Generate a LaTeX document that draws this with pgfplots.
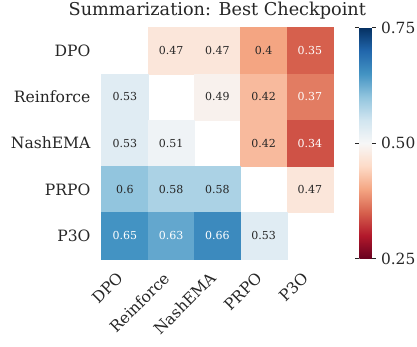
\documentclass[border=0pt]{standalone}
\usepackage{fontspec}
\setmainfont{DejaVu Serif}
\usepackage{pgfplots}
\usepackage{pgfplotstable}
\pgfplotsset{compat=1.18}
\definecolor{txt}{HTML}{262626}

% x = column (opponent), y = 4 - row, v = win rate
\pgfplotstableread{
x y v
1 4 0.47
2 4 0.47
3 4 0.40
0 3 0.53
2 3 0.49
3 3 0.42
0 2 0.53
1 2 0.51
3 2 0.42
0 1 0.60
1 1 0.58
2 1 0.58
4 1 0.47
3 0 0.53
}\darkcells
\pgfplotstableread{
x y v
4 4 0.35
4 3 0.37
4 2 0.34
0 0 0.65
1 0 0.63
2 0 0.66
}\lightcells

\begin{document}
\begin{tikzpicture}
\begin{axis}[
    name=hm,
    at={(0,0)}, anchor=south west,
    scale only axis, width=231.5pt, height=231.5pt,
    xmin=-0.5, xmax=4.5, ymin=-0.5, ymax=4.5,
    axis line style={draw=none},
    major tick length=0pt,
    xtick={0,...,4}, ytick={0,...,4},
    xticklabels={DPO,Reinforce,NashEMA,PRPO,P3O},
    yticklabels={P3O,PRPO,NashEMA,Reinforce,DPO},
    ticklabel style={font=\fontsize{15.6}{17}\selectfont, text=txt},
    xticklabel style={xshift=-9pt, yshift=-12pt, rotate=45, anchor=north east, inner sep=0pt},
    yticklabel style={anchor=east, inner sep=0pt, xshift=-11pt},
    title={Summarization: Best Checkpoint},
    title style={font=\fontsize{17.7}{20}\selectfont, text=txt, at={(0.5,1)}, anchor=base, yshift=6pt, inner sep=0pt},
    colormap={rdbu}{rgb255=(103,0,31) rgb255=(178,24,43) rgb255=(214,96,77) rgb255=(244,165,130) rgb255=(253,219,199) rgb255=(247,247,247) rgb255=(209,229,240) rgb255=(146,197,222) rgb255=(67,147,195) rgb255=(33,102,172) rgb255=(5,48,97)},
    point meta min=0.25, point meta max=0.75,
    scatter/use mapped color={draw=mapped color, fill=mapped color},
    colorbar,
    colorbar style={
        at={(parent axis.north east)}, anchor=north west, xshift=17.7pt,
        width=12.6pt,
        ytick={0.25,0.5,0.75}, yticklabels={0.25,0.50,0.75},
        axis line style={draw=none},
        major tick length=4pt, tick align=outside,
        tick style={txt, line width=0.8pt},
        yticklabel style={font=\fontsize{15.4}{17}\selectfont, text=txt, inner sep=0pt, xshift=5pt},
    },
    /pgf/number format/assume math mode=true,
]
% coloured cells
\addplot[scatter, only marks, mark=square*, mark size=23.15pt, point meta=explicit]
    table[x=x, y=y, meta=v] {\darkcells};
\addplot[scatter, only marks, mark=square*, mark size=23.15pt, point meta=explicit]
    table[x=x, y=y, meta=v] {\lightcells};
% cell annotations
\addplot[only marks, mark=none, draw=none, point meta=explicit,
    nodes near coords, nodes near coords align=center,
    every node near coord/.append style={anchor=center, font=\fontsize{11}{12}\selectfont, text=txt}]
    table[x=x, y=y, meta=v] {\darkcells};
\addplot[only marks, mark=none, draw=none, point meta=explicit,
    nodes near coords, nodes near coords align=center,
    every node near coord/.append style={anchor=center, font=\fontsize{11}{12}\selectfont, text=white}]
    table[x=x, y=y, meta=v] {\lightcells};
\end{axis}
\pgfresetboundingbox
\path ([xshift=-101.7pt,yshift=-88pt]hm.south west) rectangle ([xshift=84pt,yshift=27.5pt]hm.north east);
\end{tikzpicture}
\end{document}
